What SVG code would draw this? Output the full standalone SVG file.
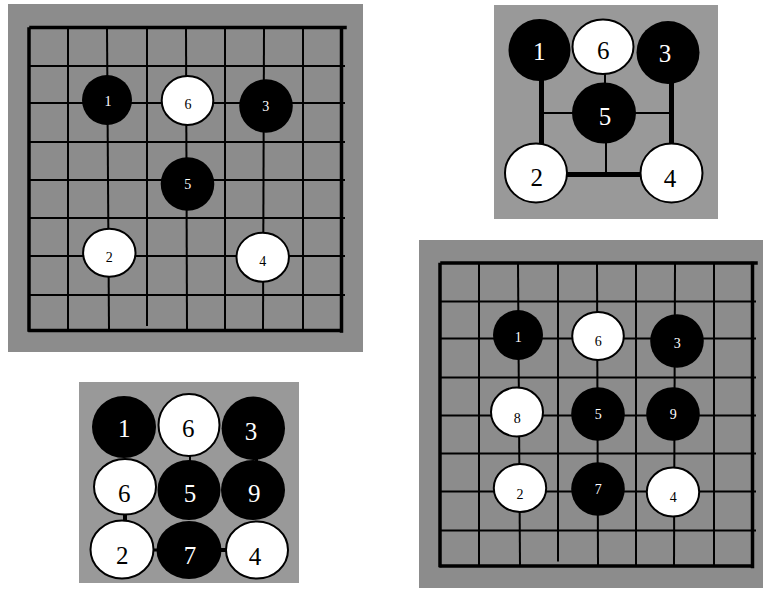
<svg xmlns="http://www.w3.org/2000/svg" xmlns:xlink="http://www.w3.org/1999/xlink" width="763" height="593" viewBox="0 0 763 593">
<style>
.bg1{fill:#8c8c8c}
.bg2{fill:#999999}
.gl{stroke:#000;stroke-width:2;fill:none}
.gb{stroke:#000;stroke-width:3.5;fill:none;stroke-linecap:square}
.b{fill:#000}
.w{fill:#fff;stroke:#000;stroke-width:2}
.cn{stroke:#000;stroke-width:2;fill:none}
.ck{stroke:#000;stroke-width:5;fill:none}
text{font-family:"Liberation Serif","Times New Roman",serif;text-anchor:middle}
.s{font-size:14px}
.l{font-size:25px}
.tb{fill:#fff}
.tw{fill:#000}
</style>
<defs>
<g id="grid">
<g class="gl">
<line x1="29" y1="66" x2="345" y2="66"/>
<line x1="29" y1="103" x2="345" y2="103"/>
<line x1="29" y1="142" x2="345" y2="142"/>
<line x1="29" y1="180" x2="345" y2="180"/>
<line x1="29" y1="218" x2="345" y2="218"/>
<line x1="29" y1="256" x2="345" y2="256"/>
<line x1="29" y1="295" x2="345" y2="295"/>
<line x1="68" y1="28" x2="68" y2="330"/>
<line x1="107" y1="28" x2="109" y2="330"/>
<line x1="147" y1="28" x2="147" y2="326"/>
<line x1="186" y1="28" x2="187" y2="330"/>
<line x1="225" y1="28" x2="225" y2="330"/>
<line x1="264" y1="28" x2="263" y2="330"/>
<line x1="303" y1="28" x2="303" y2="330"/>
</g>
<g class="gb">
<line x1="31" y1="27.5" x2="345" y2="27.5"/>
<line x1="29" y1="29" x2="29" y2="330"/>
<line x1="341.5" y1="28" x2="341.5" y2="331"/>
<line x1="30" y1="330.5" x2="341" y2="330.5"/>
</g>
</g>
</defs>

<g id="board-a">
<rect class="bg1" x="8" y="4" width="355" height="348"/>
<use xlink:href="#grid" href="#grid"/>
</g>
<g id="board-d">
<rect class="bg1" x="419" y="240" width="344" height="348"/>
<use xlink:href="#grid" href="#grid" transform="translate(411,235.5)"/>
</g>
<rect class="bg2" x="494" y="5" width="224" height="214"/>
<rect class="bg2" x="79" y="382" width="220" height="201"/>

<g id="connectors">
<line class="ck" x1="541.5" y1="78" x2="541.5" y2="144"/>
<line class="ck" x1="671.5" y1="80" x2="671.5" y2="144"/>
<line class="ck" x1="567" y1="174.5" x2="641" y2="174.5"/>
<line class="cn" x1="542" y1="113" x2="671" y2="113"/>
<line class="cn" x1="605" y1="72" x2="605" y2="84"/>
<line class="cn" x1="606" y1="142" x2="606" y2="174"/>
<line class="cn" x1="190" y1="455" x2="190" y2="462"/>
<line class="ck" x1="256.5" y1="456" x2="256.5" y2="462" style="stroke-width:3"/>
<line class="ck" x1="125" y1="513" x2="125" y2="523" style="stroke-width:4"/>
<line class="cn" x1="152" y1="550" x2="160" y2="550" style="stroke-width:3"/>
<line class="ck" x1="220" y1="550" x2="228" y2="550" style="stroke-width:4"/>
</g>

<!-- board A stones -->
<g id="a1"><circle class="b" cx="107" cy="100" r="25"/><text class="s tb" x="108" y="105.6">1</text></g>
<g id="a6"><ellipse class="w" cx="187.5" cy="100.5" rx="25.8" ry="24.5"/><text class="s tw" x="188" y="109">6</text></g>
<g id="a3"><circle class="b" cx="266" cy="106" r="26.8"/><text class="s tb" x="265.7" y="110.8">3</text></g>
<g id="a5"><circle class="b" cx="187.5" cy="184" r="26.8"/><text class="s tb" x="187.7" y="189.3">5</text></g>
<g id="a2"><ellipse class="w" cx="109.3" cy="252.7" rx="26.2" ry="24"/><text class="s tw" x="109.3" y="261.8">2</text></g>
<g id="a4"><ellipse class="w" cx="262.7" cy="257.2" rx="26.2" ry="24.5"/><text class="s tw" x="262.7" y="266.3">4</text></g>

<!-- board B (top right) -->
<g id="b1"><circle class="b" cx="539.5" cy="50" r="31"/><text class="l tb" x="539.3" y="59.5">1</text></g>
<g id="b3"><circle class="b" cx="668" cy="52.5" r="31.5"/><text class="l tb" x="665" y="62">3</text></g>
<g id="b6"><ellipse class="w" cx="603" cy="46.7" rx="30.5" ry="27.3"/><text class="l tw" x="603.3" y="59">6</text></g>
<g id="b5"><ellipse class="b" cx="604" cy="113" rx="32" ry="30.5"/><text class="l tb" x="605" y="125">5</text></g>
<g id="b2"><ellipse class="w" cx="536" cy="173" rx="31" ry="29.5"/><text class="l tw" x="536.7" y="186">2</text></g>
<g id="b4"><ellipse class="w" cx="671.5" cy="173" rx="31" ry="29.5"/><text class="l tw" x="670" y="187">4</text></g>

<!-- board C (bottom left) -->
<g id="c1"><ellipse class="b" cx="124" cy="427" rx="32" ry="31"/><text class="l tb" x="124.3" y="437">1</text></g>
<g id="c3"><circle class="b" cx="253.3" cy="428.3" r="31.7"/><text class="l tb" x="251" y="439.5">3</text></g>
<g id="c6a"><ellipse class="w" cx="189" cy="425" rx="30.5" ry="31"/><text class="l tw" x="188.3" y="437">6</text></g>
<g id="c5"><ellipse class="b" cx="189" cy="490" rx="31.5" ry="30"/><text class="l tb" x="190" y="502">5</text></g>
<g id="c9"><ellipse class="b" cx="253" cy="490" rx="32" ry="30"/><text class="l tb" x="254.3" y="502">9</text></g>
<g id="c6b"><ellipse class="w" cx="125" cy="486.7" rx="31" ry="27.8"/><text class="l tw" x="124.3" y="502">6</text></g>
<g id="c7"><ellipse class="b" cx="189" cy="550" rx="32.5" ry="29"/><text class="l tb" x="190" y="563.5">7</text></g>
<g id="c2"><ellipse class="w" cx="122" cy="549.5" rx="31.5" ry="29"/><text class="l tw" x="122.3" y="563.5">2</text></g>
<g id="c4"><ellipse class="w" cx="257" cy="550" rx="31" ry="28.5"/><text class="l tw" x="255" y="565">4</text></g>

<!-- board D (bottom right) -->
<g id="d1"><circle class="b" cx="518" cy="335" r="25"/><text class="s tb" x="518.3" y="342.3">1</text></g>
<g id="d6"><ellipse class="w" cx="598" cy="336" rx="25.8" ry="24"/><text class="s tw" x="598.3" y="345.8">6</text></g>
<g id="d3"><circle class="b" cx="677" cy="341" r="26.8"/><text class="s tb" x="677.3" y="348">3</text></g>
<g id="d8"><ellipse class="w" cx="517" cy="412" rx="26" ry="24.5"/><text class="s tw" x="517.3" y="423">8</text></g>
<g id="d5"><circle class="b" cx="598" cy="414" r="26.8"/><text class="s tb" x="598.3" y="418.8">5</text></g>
<g id="d9"><circle class="b" cx="673" cy="414" r="26.8"/><text class="s tb" x="673.3" y="418.8">9</text></g>
<g id="d2"><ellipse class="w" cx="520" cy="488" rx="26.2" ry="24"/><text class="s tw" x="520" y="498.8">2</text></g>
<g id="d7"><circle class="b" cx="598" cy="489" r="26.8"/><text class="s tb" x="598.3" y="494">7</text></g>
<g id="d4"><ellipse class="w" cx="673" cy="492" rx="26.2" ry="24.5"/><text class="s tw" x="673.3" y="501.5">4</text></g>
</svg>
